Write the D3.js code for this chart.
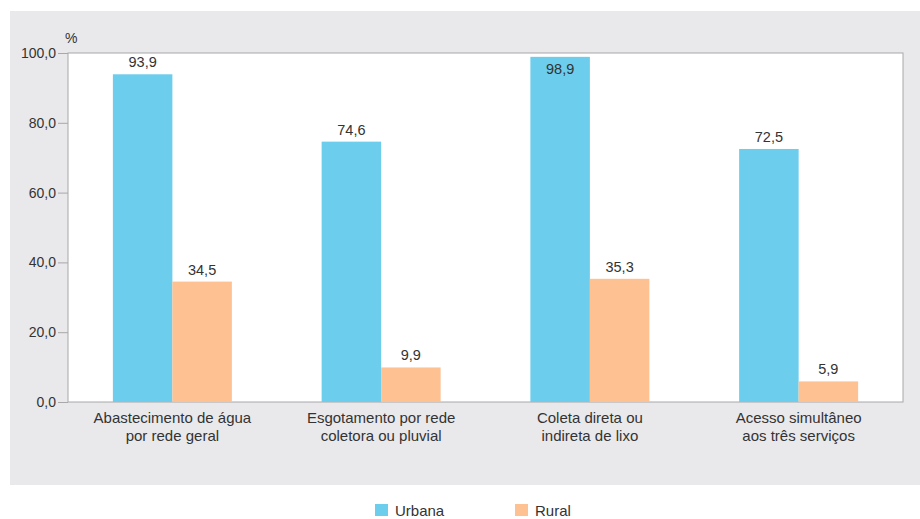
<!DOCTYPE html>
<html>
<head>
<meta charset="utf-8">
<script src="https://cdn.jsdelivr.net/npm/d3@7"></script>
<style>
  body { margin: 0; background: #fff; }
  text { font-family: "Liberation Sans", Arial, sans-serif; fill: #333; }
</style>
</head>
<body>
<div id="chart"></div>
<script>
// data
let categories = [
    ["Abastecimento de água", "por rede geral"],
    ["Esgotamento por rede", "coletora ou pluvial"],
    ["Coleta direta ou", "indireta de lixo"],
    ["Acesso simultâneo", "aos três serviços"]
]
let seriesNames = ["Urbana", "Rural"]
let urbana = [93.9, 74.6, 98.9, 72.5]
let rural = [34.5, 9.9, 35.3, 5.9]
let yTicks = [0, 20, 40, 60, 80, 100]

let colors = ["#6CCDED", "#FDC192"]

let width = 920, height = 519
let margin = {top: 53, right: 17, bottom: 117, left: 68}
let innerW = width - margin.left - margin.right,
    innerH = height - margin.top - margin.bottom

let svg = d3.select("#chart").append("svg")
    .attr("width", width)
    .attr("height", height)

// gray panel
svg.append("rect")
    .attr("x", 10).attr("y", 11)
    .attr("width", width - 10).attr("height", 474)
    .attr("fill", "#E9E9EC")

let g = svg.append("g")
    .attr("transform", "translate(" + margin.left + "," + margin.top + ")")

g.append("rect")
    .attr("width", innerW).attr("height", innerH)
    .attr("fill", "#fff")
    .attr("stroke", "#A8A8A8")
    .attr("stroke-width", 1)

let rows = categories.map((c, i) => ({key: i, label: c, values: [urbana[i], rural[i]]}))

let x0 = d3.scaleBand()
    .domain(rows.map(d => d.key))
    .range([0, innerW])
    .paddingInner(0.43)
    .paddingOuter(0.215)

let x1 = d3.scaleBand()
    .domain([0, 1])
    .range([0, x0.bandwidth()])

let y = d3.scaleLinear()
    .domain([0, 100])
    .range([innerH, 0])

let fmt = v => d3.format(".1f")(v).replace(".", ",")

// y axis
let yAxis = g.append("g")
    .call(d3.axisLeft(y).tickValues(yTicks).tickSize(10).tickPadding(2).tickFormat(fmt))
yAxis.select(".domain").remove()
yAxis.selectAll(".tick line").attr("stroke", "#A8A8A8")
yAxis.selectAll(".tick text")
    .attr("font-size", 14)
    .attr("fill", "#333")
    .attr("font-family", "Liberation Sans, Arial, sans-serif")

g.append("text")
    .attr("x", -3).attr("y", -10)
    .attr("font-size", 14)
    .text("%")

// bars
let groups = g.selectAll(".grp").data(rows)
    .enter().append("g")
    .attr("transform", d => "translate(" + x0(d.key) + ",0)")

groups.selectAll("rect")
    .data(d => d.values.map((v, j) => ({v: v, j: j})))
    .enter().append("rect")
    .attr("x", d => x1(d.j))
    .attr("y", d => y(d.v))
    .attr("width", x1.bandwidth())
    .attr("height", d => innerH - y(d.v))
    .attr("fill", d => colors[d.j])

groups.selectAll(".val")
    .data(d => d.values.map((v, j) => ({v: v, j: j})))
    .enter().append("text")
    .attr("x", d => x1(d.j) + x1.bandwidth() / 2)
    .attr("y", d => y(d.v) > 20 ? y(d.v) - 7 : y(d.v) + 17)
    .attr("text-anchor", "middle")
    .attr("font-size", 14.5)
    .text(d => fmt(d.v))

// category labels
groups.each(function (d) {
    let t = d3.select(this).append("text")
        .attr("text-anchor", "middle")
        .attr("font-size", 15)
    d.label.forEach((line, k) => {
        t.append("tspan")
            .attr("x", x0.bandwidth() / 2)
            .attr("y", innerH + 21 + k * 18)
            .text(line)
    })
})

// legend
let legendX = [375, 515]
let legend = svg.selectAll(".leg").data(seriesNames)
    .enter().append("g")
    .attr("transform", (d, i) => "translate(" + legendX[i] + ",504)")
legend.append("rect")
    .attr("width", 13).attr("height", 12)
    .attr("fill", (d, i) => colors[i])
legend.append("text")
    .attr("x", 20).attr("y", 12)
    .attr("font-size", 15)
    .text(d => d)
</script>
</body>
</html>
